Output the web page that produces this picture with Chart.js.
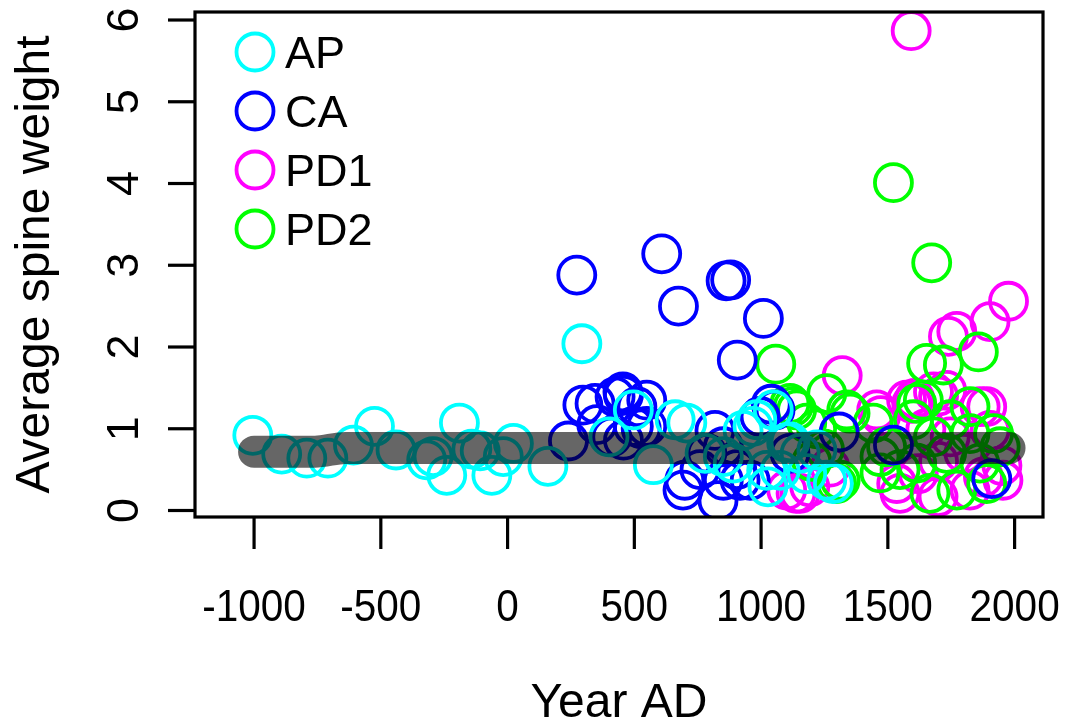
<!DOCTYPE html>
<html>
<head>
<meta charset="utf-8">
<script src="https://cdn.jsdelivr.net/npm/chart.js@4.4.1/dist/chart.umd.min.js"></script>
<style>
html,body{margin:0;padding:0;background:#fff;}
#wrap{width:1074px;height:726px;}
</style>
</head>
<body>
<div id="wrap"><canvas id="c" width="1074" height="726"></canvas></div>
<script>
// ---- data ----
const seriesNames = ["AP", "CA", "PD1", "PD2"];
const seriesColors = ["#00FFFF", "#0000FF", "#FF00FF", "#00FF00"];

const apYear = [-1005,-891,-792,-709,-608,-525,-440,-319,-294,-240,-190,-141,-108,-62,-17,23,159,293,400,496,575,661,707,779,851,890,929,968,983,1022,1027,1048,1075,1101,1114,1154,1180,1220,1259,1285];
const apWeight = [0.92,0.69,0.64,0.64,0.80,1.03,0.74,0.62,0.66,0.43,1.07,0.75,0.73,0.43,0.66,0.82,0.54,2.04,0.90,1.23,0.56,1.11,1.07,0.70,0.66,0.58,0.98,1.03,1.11,0.49,0.29,1.23,0.49,0.83,0.84,0.70,0.45,0.74,0.37,0.33];

const caYear = [240,273,297,345,352,411,424,455,457,457,496,510,527,549,549,608,674,692,699,759,786,818,830,851,851,862,880,904,906,917,957,996,1009,1040,1055,1114,1308,1522,1910];
const caWeight = [0.85,2.88,1.29,1.31,1.05,0.90,1.39,1.45,1.41,0.86,1.03,1.27,1.00,1.35,1.03,3.14,2.50,0.25,0.37,0.50,0.70,0.98,0.12,0.78,0.37,2.81,2.82,0.50,1.84,0.37,0.37,1.15,2.35,1.30,1.23,0.70,0.96,0.80,0.39];

const pd1Year = [1101,1138,1154,1192,1272,1320,1456,1472,1535,1548,1574,1592,1594,1606,1620,1650,1680,1698,1700,1700,1732,1739,1746,1772,1800,1824,1864,1877,1890,1903,1903,1950,1954,1976];
const pd1Weight = [0.25,0.21,0.21,0.29,0.53,1.65,1.23,1.16,0.33,0.21,1.35,5.87,1.31,1.37,0.45,1.00,1.45,0.17,1.40,0.60,1.47,2.13,0.90,2.19,0.70,0.25,1.27,0.41,1.27,2.31,0.98,0.55,0.37,2.56];

const pd2Year = [1058,1114,1126,1140,1180,1200,1219,1250,1259,1298,1312,1338,1351,1442,1469,1469,1495,1522,1548,1601,1614,1614,1640,1653,1666,1673,1680,1719,1732,1746,1772,1824,1824,1857,1863,1890,1917,1943];
const pd2Weight = [1.79,1.31,1.27,1.23,1.07,0.60,1.00,0.75,1.43,0.33,0.37,1.23,1.19,1.07,0.66,0.46,0.78,4.01,0.50,1.11,0.58,1.31,1.35,1.80,0.21,3.03,0.90,1.78,0.70,1.11,0.25,1.27,0.94,1.94,0.58,0.33,0.94,0.78];

// trend band
const trendYear = [-1000,-760,-640,1980];
const trendWeight = [0.72,0.72,0.765,0.765];

// axes
const xTicks = [-1000,-500,0,500,1000,1500,2000];
const xTickLabels = ["-1000","-500","0","500","1000","1500","2000"];
const yTicks = [0,1,2,3,4,5,6];
const yTickLabels = ["0","1","2","3","4","5","6"];
const xTitle = "Year AD";
const yTitle = "Average spine weight";

// ---- build ----
function pts(xa, ya){ return xa.map((x,i)=>({x:x, y:ya[i]})); }
const FONT = '"Liberation Sans", Arial, Helvetica, sans-serif';

function pointSet(label, xa, ya, color){
  return {label:label, data:pts(xa,ya), showLine:false, pointStyle:'circle',
    pointRadius:18.5, pointHoverRadius:18.5, pointBorderWidth:3.8, pointHoverBorderWidth:3.8,
    borderColor:color, pointBorderColor:color, backgroundColor:'rgba(0,0,0,0)',
    pointBackgroundColor:'rgba(0,0,0,0)'};
}

const frame = {
  id:'frame',
  afterDraw(chart){
    const ctx = chart.ctx, a = chart.chartArea;
    const xs = chart.scales.x, ys = chart.scales.y;
    ctx.save();
    ctx.strokeStyle = '#000'; ctx.lineWidth = 3.2; ctx.lineCap = 'butt';
    ctx.strokeRect(a.left, a.top, a.right - a.left, a.bottom - a.top);
    ctx.fillStyle = '#000';
    ctx.font = '45px ' + FONT;
    ctx.textAlign = 'center'; ctx.textBaseline = 'alphabetic';
    xTicks.forEach((v,i)=>{
      const px = xs.getPixelForValue(v);
      ctx.beginPath(); ctx.moveTo(px, a.bottom); ctx.lineTo(px, a.bottom + 32); ctx.stroke();
      ctx.save(); ctx.translate(px, 621); ctx.scale(0.9, 1);
      ctx.fillText(xTickLabels[i], 0, 0); ctx.restore();
    });
    yTicks.forEach((v,i)=>{
      const py = ys.getPixelForValue(v);
      ctx.beginPath(); ctx.moveTo(a.left - 27, py); ctx.lineTo(a.left, py); ctx.stroke();
      ctx.save(); ctx.translate(138, py); ctx.rotate(-Math.PI/2);
      ctx.fillText(yTickLabels[i], 0, 0); ctx.restore();
    });
    ctx.font = '48px ' + FONT;
    ctx.fillText(xTitle, (a.left + a.right)/2, 717);
    ctx.save(); ctx.translate(49, (a.top + a.bottom)/2); ctx.rotate(-Math.PI/2);
    ctx.fillText(yTitle, 0, 0); ctx.restore();
    // legend
    const ly = [52, 111, 170, 229];
    ctx.font = '45px ' + FONT; ctx.textAlign = 'left';
    seriesNames.forEach((n,i)=>{
      ctx.beginPath(); ctx.arc(255, ly[i], 18.5, 0, Math.PI*2);
      ctx.strokeStyle = seriesColors[i]; ctx.lineWidth = 3.8; ctx.stroke();
      ctx.fillStyle = '#000';
      ctx.fillText(n, 285, ly[i] + 16);
    });
    ctx.restore();
  }
};

new Chart(document.getElementById('c'), {
  type:'scatter',
  data:{datasets:[
    {label:'trend', data:pts(trendYear, trendWeight), showLine:true, borderColor:'rgba(0,0,0,0.6)',
     borderWidth:32, borderCapStyle:'round', borderJoinStyle:'round', pointRadius:0, pointHoverRadius:0,
     cubicInterpolationMode:'monotone', fill:false},
    pointSet(seriesNames[0], apYear, apWeight, seriesColors[0]),
    pointSet(seriesNames[1], caYear, caWeight, seriesColors[1]),
    pointSet(seriesNames[3], pd2Year, pd2Weight, seriesColors[3]),
    pointSet(seriesNames[2], pd1Year, pd1Weight, seriesColors[2])
  ]},
  options:{
    responsive:false, animation:false, devicePixelRatio:1,
    layout:{autoPadding:false, padding:{left:195, top:12, right:31, bottom:209}},
    scales:{
      x:{type:'linear', min:-1233, max:2112, display:false},
      y:{type:'linear', min:-0.0795, max:6.098, display:false}
    },
    plugins:{legend:{display:false}, tooltip:{enabled:false}},
    events:[]
  },
  plugins:[frame]
});
</script>
</body>
</html>
